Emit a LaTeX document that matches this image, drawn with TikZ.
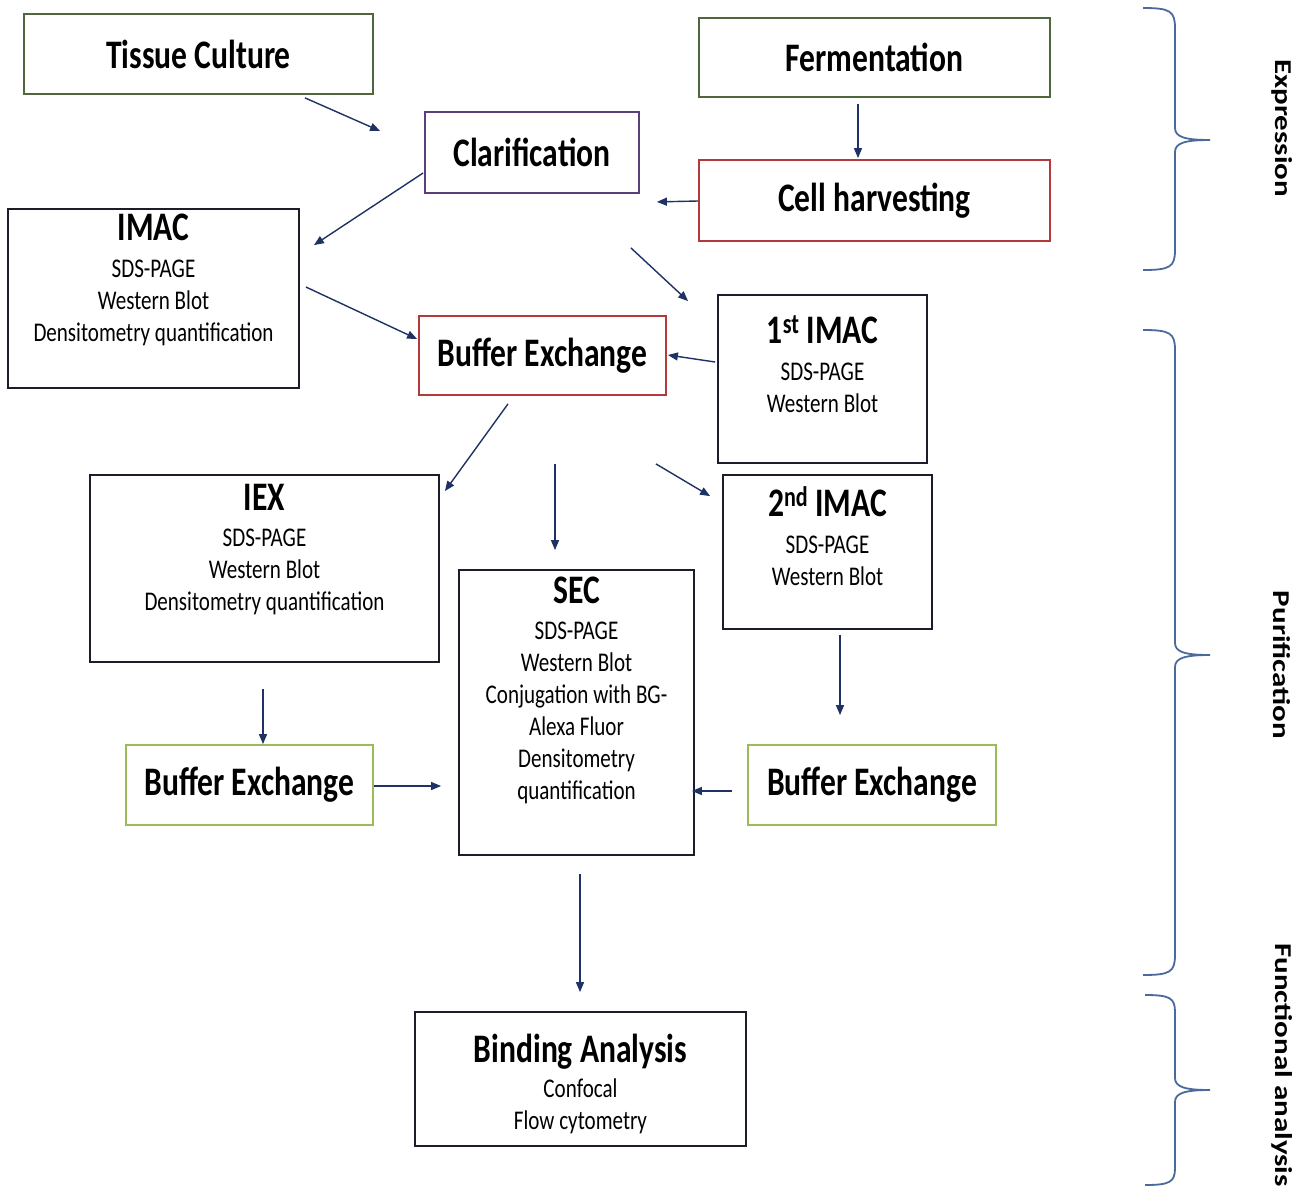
\documentclass[tikz,border=0pt]{standalone}
\usepackage{fontspec}
\usepackage{graphicx}
\setmainfont{Carlito}[FakeStretch=0.78]
\newfontfamily\sidefont{Carlito}
\usetikzlibrary{arrows.meta}
\definecolor{cgreen}{HTML}{50663C}
\definecolor{lgreen}{HTML}{9BBB59}
\definecolor{cred}{HTML}{B23A3A}
\definecolor{cpurple}{HTML}{5B3F7A}
\definecolor{cdark}{HTML}{1C1C2A}
\definecolor{carrow}{HTML}{1F3264}
\definecolor{cbrace}{HTML}{4A6A9E}
\newcommand\ttlfnt{\fontsize{40.5}{46}\selectfont\bfseries}
\newcommand\subfnt{\fontsize{27}{32}\selectfont}
\newcommand\sidefnt{\sidefont\bfseries\fontsize{31}{36}\selectfont}
\begin{document}
\begin{tikzpicture}[x=1pt,y=-1pt,
  box/.style={draw=cdark, line width=1.8pt, inner sep=0pt, fill=white},
  ttl/.style={font=\ttlfnt, inner sep=0pt, anchor=base},
  body/.style={font=\subfnt, inner sep=0pt, anchor=north, align=center},
  arr/.style={draw=carrow, line width=1.4pt, -{Triangle[length=10pt,width=8pt]}},
  brace/.style={draw=cbrace, line width=1.8pt},
  side/.style={font=\sidefnt, rotate=-90, inner sep=0pt}]
\useasboundingbox (0,0) rectangle (1309,1189);
\fill[white] (0,0) rectangle (1309,1189);

% boxes
\node[box, draw=cgreen, minimum width=349pt, minimum height=80pt, font=\ttlfnt] (tc) at (198.5,54) {Tissue Culture};
\node[box, draw=cgreen, minimum width=351pt, minimum height=79pt, font=\ttlfnt] (ferm) at (874.5,57.5) {Fermentation};
\node[box, draw=cpurple, minimum width=214pt, minimum height=81pt, font=\ttlfnt] (cl) at (532,152.5) {Clarification};
\node[box, draw=cred, minimum width=351pt, minimum height=81pt, font=\ttlfnt] (ch) at (874.5,200.5) {Cell harvesting};
\node[box, minimum width=291pt, minimum height=179pt] (imac) at (153.5,298.5) {};
\node[box, draw=cred, minimum width=247pt, minimum height=79pt, font=\ttlfnt] (be) at (542.5,355.5) {Buffer Exchange};
\node[box, minimum width=209pt, minimum height=168pt] (i1) at (822.5,379) {};
\node[box, minimum width=349pt, minimum height=187pt] (iex) at (264.5,568.5) {};
\node[box, minimum width=209pt, minimum height=154pt] (i2) at (827.5,552) {};
\node[box, minimum width=235pt, minimum height=285pt] (sec) at (576.5,712.5) {};
\node[box, draw=lgreen, minimum width=247pt, minimum height=80pt, font=\ttlfnt] (bel) at (249.5,785) {Buffer Exchange};
\node[box, draw=lgreen, minimum width=248pt, minimum height=80pt, font=\ttlfnt] (ber) at (872,785) {Buffer Exchange};
\node[box, minimum width=331pt, minimum height=134pt] (ba) at (580.5,1079) {};

% box texts
\node[ttl] (imacT) at (153.5,240) {IMAC};
\node[body] (imacB) at (153.5,257) {\rule{0pt}{20pt}SDS-PAGE\\Western Blot\\Densitometry quantification};
\node[ttl] (i1T) at (822.5,343) {1\textsuperscript{st} IMAC};
\node[body] (i1B) at (822.5,360) {\rule{0pt}{20pt}SDS-PAGE\\Western Blot};
\node[ttl] (i2T) at (827.5,516) {2\textsuperscript{nd} IMAC};
\node[body] (i2B) at (827.5,533) {\rule{0pt}{20pt}SDS-PAGE\\Western Blot};
\node[ttl] (iexT) at (264.5,510) {IEX};
\node[body] (iexB) at (264.5,526) {\rule{0pt}{20pt}SDS-PAGE\\Western Blot\\Densitometry quantification};
\node[ttl] (secT) at (576.5,603) {SEC};
\node[body] (secB) at (576.5,619) {\rule{0pt}{20pt}SDS-PAGE\\Western Blot\\Conjugation with BG-\\Alexa Fluor\\Densitometry\\quantification};
\node[ttl] (baT) at (580.5,1062) {Binding Analysis};
\node[body] (baB) at (580.5,1077) {\rule{0pt}{20pt}Confocal\\Flow cytometry};

% connectors
\draw[arr] ([shift={(106.5,3)}]tc.south) -- ([shift={(-44,-21.5)}]cl.west);
\draw[arr] ([shift={(-1,20.5)}]cl.west) -- ([shift={(14,37)}]imac.north east);
\draw[arr] ([shift={(-16.5,6)}]ferm.south) -- ([shift={(-16.5,-1)}]ch.north);
\draw[arr] ([shift={(0,0.5)}]ch.west) -- ([shift={(17,8)}]cl.south east);
\draw[arr] ([shift={(-9,54)}]cl.south east) -- ([shift={(-29,7)}]i1.north west);
\draw[arr] ([shift={(6,-11.5)}]imac.east) -- ([shift={(-1,-16.5)}]be.west);
\draw[arr] ([shift={(-2,-17)}]i1.west) -- ([shift={(1,-0.5)}]be.east);
\draw[arr] ([shift={(-34.5,8)}]be.south) -- ([shift={(5,17)}]iex.north east);
\draw[arr] ([shift={(12.5,68)}]be.south) -- ([shift={(-21.5,-19)}]sec.north);
\draw[arr] ([shift={(-11,68)}]be.south east) -- ([shift={(-12,22)}]i2.north west);
\draw[arr] ([shift={(-1.5,26)}]iex.south) -- ([shift={(13.5,0)}]bel.north);
\draw[arr] ([shift={(12.5,5)}]i2.south) -- ([shift={(-32,-29)}]ber.north);
\draw[arr] ([shift={(0,1)}]bel.east) -- ([shift={(-17,73.5)}]sec.west);
\draw[arr] ([shift={(-15,6)}]ber.west) -- ([shift={(-3,78.5)}]sec.east);
\draw[arr] ([shift={(3.5,18)}]sec.south) -- ([shift={(-0.5,-19)}]ba.north);

% braces
\draw[brace] (1143,8) .. controls (1170,8) and (1175,11) .. (1175,28) -- (1175,128)
  .. controls (1175,137) and (1185,140) .. (1210,140)
  .. controls (1185,140) and (1175,143) .. (1175,152) -- (1175,250)
  .. controls (1175,267) and (1170,270) .. (1143,270);
\draw[brace] (1143,330) .. controls (1170,330) and (1175,333) .. (1175,350) -- (1175,643)
  .. controls (1175,652) and (1185,655) .. (1210,655)
  .. controls (1185,655) and (1175,658) .. (1175,667) -- (1175,955)
  .. controls (1175,972) and (1170,975) .. (1143,975);
\draw[brace] (1145,995) .. controls (1170,995) and (1175,998) .. (1175,1012) -- (1175,1078)
  .. controls (1175,1087) and (1185,1090) .. (1210,1090)
  .. controls (1185,1090) and (1175,1093) .. (1175,1102) -- (1175,1168)
  .. controls (1175,1182) and (1170,1185) .. (1145,1185);

% side labels
\node[side] (lexp) at (1282,128) {\scalebox{1}[0.78]{Expression}};
\node[side] (lpur) at (1282,665) {\scalebox{1}[0.78]{Purification}};
\node[side, anchor=east] (lfun) at (1282,1187) {\scalebox{1}[0.78]{Functional analysis}};
\end{tikzpicture}
\end{document}
